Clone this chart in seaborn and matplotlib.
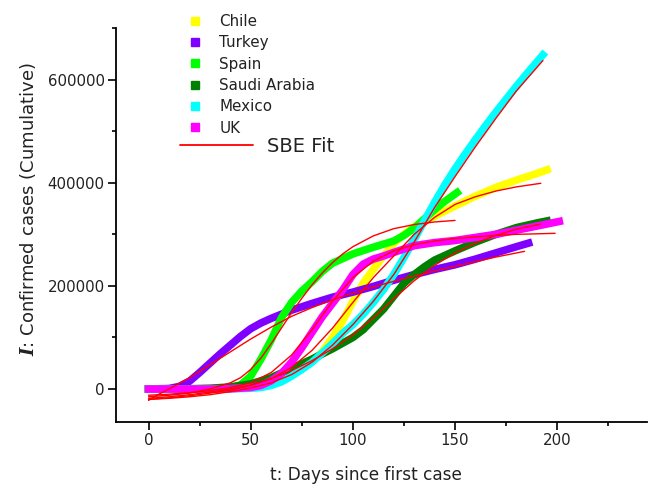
import pandas as pd
import matplotlib
matplotlib.use('Agg')
import matplotlib.pyplot as plt
from matplotlib.lines import Line2D
from matplotlib.ticker import MultipleLocator, FuncFormatter
import seaborn as sns

# Cumulative confirmed cases
chile_days = [0, 10, 20, 30, 40, 50, 55, 60, 65, 70, 75, 80, 85, 90, 95, 100, 105, 110, 115, 120,
              125, 130, 140, 150, 160, 170, 180, 190, 195]
chile_cases = [0, 0, 100, 1000, 3000, 8000, 12000, 18000, 25000, 35000, 44000, 55000, 72000, 100000,
               132000, 170000, 205000, 232000, 258000, 282000, 300000, 315000, 335000, 355000, 374000,
               391000, 405000, 418000, 425000]

turkey_days = [0, 10, 15, 20, 25, 30, 35, 40, 45, 50, 55, 60, 70, 80, 90, 100, 110, 120, 130, 140,
               150, 160, 170, 180, 186]
turkey_cases = [0, 1000, 5000, 15000, 32000, 50000, 68000, 85000, 102000, 117000, 128000, 137000,
                153000, 166000, 178000, 188000, 199000, 211000, 222000, 232000, 241000, 252000,
                264000, 276000, 283000]

spain_days = [0, 10, 20, 30, 40, 45, 50, 55, 60, 65, 70, 75, 80, 85, 90, 100, 110, 120, 125, 130,
              135, 140, 145, 151]
spain_cases = [0, 0, 0, 0, 2000, 8000, 25000, 58000, 95000, 138000, 168000, 190000, 208000, 228000,
               244000, 262000, 275000, 287000, 298000, 312000, 330000, 348000, 364000, 381000]

saudi_days = [0, 10, 20, 30, 40, 50, 60, 70, 80, 90, 100, 105, 110, 115, 120, 125, 130, 135, 140,
              150, 160, 170, 180, 190, 195]
saudi_cases = [0, 0, 500, 1500, 4000, 10000, 22000, 40000, 58000, 78000, 100000, 115000, 135000,
               155000, 180000, 205000, 222000, 237000, 250000, 268000, 285000, 300000, 313000,
               322000, 326000]

mexico_days = [0, 10, 20, 30, 40, 50, 55, 60, 65, 70, 75, 80, 85, 90, 95, 100, 105, 110, 115, 120,
               125, 130, 135, 140, 145, 150, 155, 160, 165, 170, 175, 180, 185, 190, 193]
mexico_cases = [0, 0, 0, 0, 500, 1500, 3000, 7000, 14000, 25000, 38000, 52000, 70000, 88000, 108000,
                125000, 145000, 168000, 193000, 222000, 255000, 290000, 326000, 362000, 396000,
                427000, 456000, 484000, 511000, 537000, 562000, 587000, 611000, 634000, 648000]

uk_days = [0, 10, 20, 30, 40, 50, 55, 60, 65, 70, 75, 80, 85, 90, 95, 100, 105, 110, 115, 120, 130,
           140, 150, 160, 170, 180, 190, 201]
uk_cases = [0, 0, 0, 0, 500, 3000, 7000, 16000, 30000, 52000, 80000, 110000, 140000, 166000, 192000,
            222000, 242000, 252000, 258000, 265000, 278000, 284000, 288000, 294000, 300000, 308000,
            316000, 325000]

# SBE fit curves
turkey_fit_days = [0, 5, 10, 20, 30, 40, 50, 60, 70, 80, 90, 100, 110, 120, 130, 140, 150, 160, 170, 184]
turkey_fit = [-22000, -10000, 0, 22000, 47000, 72000, 97000, 120000, 141000, 158000, 173000, 186000,
              198000, 209000, 219000, 229000, 238000, 247000, 256000, 267000]

spain_fit_days = [0, 10, 20, 30, 40, 45, 50, 55, 60, 65, 70, 75, 80, 85, 90, 95, 100, 110, 120, 130, 140, 150]
spain_fit = [-15000, -12000, -8000, 0, 12000, 22000, 38000, 60000, 88000, 118000, 148000, 176000,
             202000, 225000, 245000, 262000, 276000, 297000, 311000, 319000, 324000, 327000]

chile_fit_days = [0, 10, 20, 30, 40, 50, 60, 70, 80, 90, 100, 110, 120, 130, 140, 150, 160, 170, 180, 192]
chile_fit = [-20000, -17000, -13000, -8000, -2000, 7000, 20000, 42000, 75000, 118000, 168000, 216000,
             258000, 300000, 333000, 358000, 373000, 384000, 392000, 399000]

mexico_fit_days = [0, 10, 20, 30, 40, 50, 60, 70, 80, 90, 100, 110, 120, 130, 140, 150, 160, 170, 180, 193]
mexico_fit = [-20000, -18000, -15000, -11000, -5000, 2000, 12000, 28000, 52000, 85000, 125000, 170000,
              222000, 285000, 352000, 412000, 470000, 525000, 578000, 637000]

uk_fit_days = [0, 10, 20, 30, 40, 50, 60, 70, 80, 90, 100, 110, 120, 130, 140, 150, 160, 170, 180, 190, 199]
uk_fit = [-12000, -10000, -7000, -3000, 3000, 12000, 32000, 66000, 115000, 170000, 216000, 248000,
          268000, 280000, 287000, 292000, 295000, 298000, 300000, 301000, 302000]

saudi_fit_days = [0, 10, 20, 30, 40, 50, 60, 70, 80, 90, 100, 110, 120, 130, 140, 150, 160, 170, 180, 192]
saudi_fit = [-18000, -15000, -11000, -6000, 0, 8000, 20000, 36000, 55000, 78000, 105000, 138000,
             175000, 210000, 240000, 264000, 283000, 298000, 310000, 320000]

countries = ['Chile', 'Turkey', 'Spain', 'Saudi Arabia', 'Mexico', 'UK']
colors = {'Chile': '#FFFF00', 'Turkey': '#8000FF', 'Spain': '#00FF00',
          'Saudi Arabia': '#008000', 'Mexico': '#00FFFF', 'UK': '#FF00FF'}

data = {'Chile': (chile_days, chile_cases), 'Turkey': (turkey_days, turkey_cases),
        'Spain': (spain_days, spain_cases), 'Saudi Arabia': (saudi_days, saudi_cases),
        'Mexico': (mexico_days, mexico_cases), 'UK': (uk_days, uk_cases)}
fits = {'Chile': (chile_fit_days, chile_fit), 'Turkey': (turkey_fit_days, turkey_fit),
        'Spain': (spain_fit_days, spain_fit), 'Saudi Arabia': (saudi_fit_days, saudi_fit),
        'Mexico': (mexico_fit_days, mexico_fit), 'UK': (uk_fit_days, uk_fit)}

df = pd.concat([pd.DataFrame({'day': d, 'cases': c, 'country': k}) for k, (d, c) in data.items()])
df_fit = pd.concat([pd.DataFrame({'day': d, 'cases': c, 'country': k}) for k, (d, c) in fits.items()])

sns.set_style('ticks')
plt.rcParams['font.family'] = ['DejaVu Sans']
plt.rcParams['mathtext.fontset'] = 'dejavuserif'

fig = plt.figure(figsize=(6.51, 4.84), dpi=100)
ax = fig.add_axes([0.178, 0.128, 0.816, 0.814])

sns.lineplot(data=df, x='day', y='cases', hue='country', hue_order=countries, palette=colors,
             linewidth=5.5, solid_capstyle='projecting', legend=False, ax=ax)
sns.lineplot(data=df_fit, x='day', y='cases', units='country', estimator=None, color='red',
             linewidth=1.0, legend=False, ax=ax)

ax.set_xlim(-16, 244)
ax.set_ylim(-64000, 700000)
ax.xaxis.set_major_locator(MultipleLocator(50))
ax.xaxis.set_minor_locator(MultipleLocator(25))
ax.yaxis.set_major_locator(MultipleLocator(200000))
ax.yaxis.set_minor_locator(MultipleLocator(100000))
ax.yaxis.set_major_formatter(FuncFormatter(lambda v, p: f'{int(v)}'))
ax.tick_params(which='major', length=6, width=1.2, pad=2, labelsize=10.8,
               color='black', labelcolor='#222222')
ax.tick_params(which='minor', length=3, width=1.2, color='black')
for s in ['left', 'bottom']:
    ax.spines[s].set_linewidth(1.3)
    ax.spines[s].set_color('black')
sns.despine(ax=ax)

ax.set_xlabel('t: Days since first case', fontsize=12.2, color='#222222')
ax.set_ylabel(r'$\mathbfit{I}$: Confirmed cases (Cumulative)', fontsize=13, color='#222222')
ax.xaxis.set_label_coords(0.471, -0.112)
ax.yaxis.set_label_coords(-0.147, 0.541)

handles = [Line2D([], [], marker='s', linestyle='none', markersize=6, color=colors[c]) for c in countries]
leg1 = fig.legend(handles, countries, loc='upper left', bbox_to_anchor=(0.2787, 0.984), frameon=False,
                  fontsize=10.9, handlelength=1.0, handletextpad=1.09, labelspacing=0.42,
                  borderpad=0.4, borderaxespad=0)
for t in leg1.get_texts():
    t.set_color('#222222')
leg2 = fig.legend([Line2D([], [], color='red', linewidth=1.3)], ['SBE Fit'], loc='upper left',
                  bbox_to_anchor=(0.2645, 0.7324), frameon=False, fontsize=14, handlelength=3.76,
                  handletextpad=0.72, borderpad=0.4, borderaxespad=0)
for t in leg2.get_texts():
    t.set_color('#222222')

fig.savefig('out.png', dpi=100)
